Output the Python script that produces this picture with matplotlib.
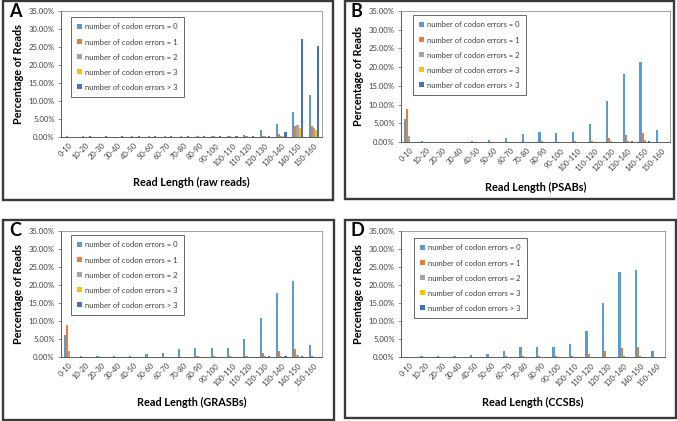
import numpy as np
import matplotlib.pyplot as plt
from matplotlib.patches import Rectangle
from matplotlib.ticker import FuncFormatter

plt.rcParams['font.family'] = ['Lato', 'DejaVu Sans']

categories = ['0-10', '10-20', '20-30', '30-40', '40-50', '50-60', '60-70', '70-80',
              '80-90', '90-100', '100-110', '110-120', '120-130', '130-140', '140-150', '150-160']
series_names = ['number of codon errors = 0', 'number of codon errors = 1',
                'number of codon errors = 2', 'number of codon errors = 3',
                'number of codon errors > 3']
colors = ['#5B9BD5', '#ED7D31', '#A5A5A5', '#FFC000', '#4472C4']

# panel A - raw reads
err0_A = [0.1, 0.1, 0.05, 0.1, 0.1, 0.1, 0.1, 0.1, 0.1, 0.15, 0.3, 0.65, 1.9, 3.5, 7.0, 11.7]
err1_A = [0.15, 0.15, 0.05, 0.1, 0.15, 0.15, 0.15, 0.15, 0.15, 0.15, 0.15, 0.2, 0.3, 0.7, 3.1, 3.0]
err2_A = [0.1, 0.1, 0.05, 0.1, 0.1, 0.1, 0.1, 0.1, 0.1, 0.1, 0.1, 0.1, 0.2, 0.4, 3.3, 2.5]
err3_A = [0.1, 0.1, 0.05, 0.1, 0.1, 0.1, 0.1, 0.1, 0.1, 0.1, 0.1, 0.1, 0.1, 0.2, 2.6, 2.0]
errgt3_A = [0.1, 0.15, 0.2, 0.15, 0.15, 0.15, 0.15, 0.15, 0.15, 0.15, 0.15, 0.2, 0.2, 1.3, 27.2, 25.3]

# panel B - PSABs
err0_B = [6.1, 0.4, 0.1, 0.1, 0.3, 0.6, 1.2, 2.1, 2.6, 2.3, 2.6, 4.9, 11.0, 18.1, 21.4, 3.2]
err1_B = [8.75, 0.05, 0.02, 0.02, 0.05, 0.05, 0.05, 0.1, 0.15, 0.1, 0.15, 0.3, 1.0, 1.8, 2.3, 0.1]
err2_B = [1.5, 0.02, 0.0, 0.0, 0.0, 0.0, 0.0, 0.02, 0.05, 0.02, 0.05, 0.05, 0.2, 0.4, 0.6, 0.05]
err3_B = [0.1, 0.0, 0.0, 0.0, 0.0, 0.0, 0.0, 0.0, 0.0, 0.0, 0.0, 0.0, 0.05, 0.05, 0.1, 0.0]
errgt3_B = [0.1, 0.02, 0.02, 0.02, 0.02, 0.02, 0.02, 0.02, 0.05, 0.02, 0.05, 0.05, 0.1, 0.2, 0.2, 0.05]

# panel C - GRASBs
err0_C = [6.0, 0.4, 0.3, 0.3, 0.3, 0.7, 1.1, 2.1, 2.6, 2.4, 2.6, 4.9, 10.8, 17.9, 21.1, 3.2]
err1_C = [8.8, 0.1, 0.1, 0.1, 0.1, 0.1, 0.1, 0.1, 0.2, 0.15, 0.15, 0.4, 1.0, 1.7, 2.3, 0.4]
err2_C = [1.6, 0.05, 0.05, 0.05, 0.05, 0.05, 0.05, 0.05, 0.05, 0.05, 0.05, 0.1, 0.2, 0.4, 0.5, 0.1]
err3_C = [0.1, 0.02, 0.02, 0.02, 0.02, 0.02, 0.02, 0.02, 0.02, 0.02, 0.02, 0.05, 0.05, 0.1, 0.1, 0.05]
errgt3_C = [0.1, 0.05, 0.05, 0.05, 0.05, 0.05, 0.05, 0.05, 0.1, 0.05, 0.1, 0.1, 0.15, 0.2, 0.2, 0.1]

# panel D - CCSBs
err0_D = [0.05, 0.4, 0.3, 0.35, 0.5, 0.9, 1.6, 2.8, 2.9, 2.9, 3.6, 7.1, 15.1, 23.5, 24.2, 1.8]
err1_D = [0.02, 0.1, 0.05, 0.05, 0.1, 0.1, 0.15, 0.2, 0.3, 0.2, 0.35, 0.7, 1.6, 2.6, 2.8, 0.1]
err2_D = [0.0, 0.02, 0.02, 0.02, 0.02, 0.02, 0.02, 0.05, 0.05, 0.05, 0.05, 0.05, 0.1, 0.15, 0.15, 0.02]
err3_D = [0.0, 0.0, 0.0, 0.0, 0.0, 0.0, 0.0, 0.0, 0.0, 0.0, 0.0, 0.02, 0.02, 0.05, 0.05, 0.0]
errgt3_D = [0.0, 0.02, 0.02, 0.02, 0.02, 0.02, 0.05, 0.05, 0.05, 0.05, 0.05, 0.05, 0.1, 0.1, 0.1, 0.02]

panels = [
    ('A', 'Read Length (raw reads)', [err0_A, err1_A, err2_A, err3_A, errgt3_A]),
    ('B', 'Read Length (PSABs)', [err0_B, err1_B, err2_B, err3_B, errgt3_B]),
    ('C', 'Read Length (GRASBs)', [err0_C, err1_C, err2_C, err3_C, errgt3_C]),
    ('D', 'Read Length (CCSBs)', [err0_D, err1_D, err2_D, err3_D, errgt3_D]),
]

W, H = 677, 421
fig = plt.figure(figsize=(W / 100, H / 100), dpi=100)

# pixel boxes: (left, top, right, bottom)
axes_px = [(61, 11, 322, 137), (401, 11, 670, 142), (61, 231, 322, 357), (401, 231, 665, 357)]
frames_px = [(3, 1, 333, 200), (345, 1, 674, 199), (3, 220, 334, 420), (345, 220, 676, 418)]
legend_px = [(71, 17), (413, 15), (71, 235), (414, 238)]

def fx(p):
    return p / W

def fy(p):
    return 1 - p / H

x = np.arange(len(categories))
bw = 0.13

for i, (letter, xlabel, data) in enumerate(panels):
    l, t, r, b = frames_px[i]
    fig.patches.append(Rectangle((fx(l), fy(b)), fx(r - l), (b - t) / H, transform=fig.transFigure,
                                 fill=False, edgecolor='#3a3a3a', linewidth=1.7))
    l, t, r, b = axes_px[i]
    ax = fig.add_axes([fx(l), fy(b), fx(r - l), (b - t) / H])
    for k, vals in enumerate(data):
        ax.bar(x + (k - 2) * bw, vals, width=bw, color=colors[k], label=series_names[k])
    ax.set_xlim(-0.5, len(categories) - 0.5)
    ax.set_ylim(0, 35)
    ax.set_yticks(np.arange(0, 36, 5))
    ax.yaxis.set_major_formatter(FuncFormatter(lambda v, p: f'{v:.2f}%'))
    ax.set_xticks(x)
    ax.set_xticklabels(categories, rotation=45, ha='right', rotation_mode='anchor', fontsize=5.4, color='#404040')
    ax.tick_params(axis='y', labelsize=5.6, labelcolor='#404040', length=2.5, width=0.6, color='#808080', pad=2)
    ax.tick_params(axis='x', length=0, pad=3.5)
    for s in ax.spines.values():
        s.set_color('#909090')
        s.set_linewidth(0.6)
    ax.spines['left'].set_color('#404040')
    ax.spines['bottom'].set_color('#404040')
    ax.set_ylabel('Percentage of Reads', fontsize=7.8, fontweight='bold', labelpad=3)
    ax.set_xlabel(xlabel, fontsize=7.8, fontweight='bold', labelpad=7)
    fl, ft = legend_px[i]
    leg = ax.legend(loc='upper left', bbox_to_anchor=(fx(fl), fy(ft)), bbox_transform=fig.transFigure,
                    fontsize=5.5, frameon=True, fancybox=False, handlelength=0.65, handleheight=0.65,
                    handletextpad=0.3, labelspacing=1.05, borderpad=0.85, borderaxespad=0)
    leg.get_frame().set_edgecolor('#404040')
    leg.get_frame().set_linewidth(0.7)
    for txt in leg.get_texts():
        txt.set_color('#404040')
    fl, ft, _, _ = frames_px[i]
    fig.text(fx(fl + 6), fy(ft + 2), letter, fontsize=13, fontweight='bold', va='top', ha='left')

fig.savefig('out.png', dpi=100)
